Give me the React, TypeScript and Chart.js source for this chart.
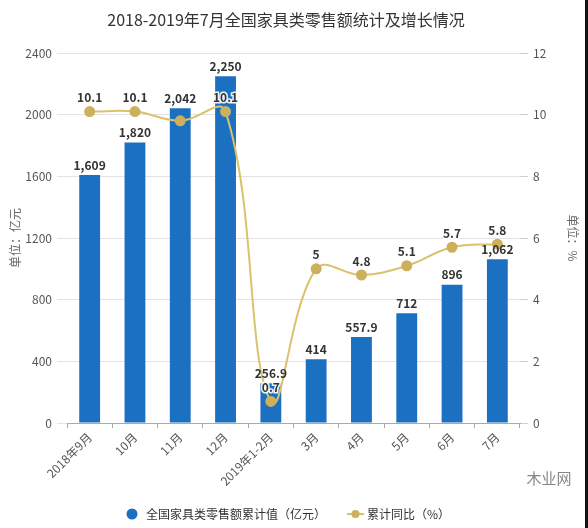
import React, { useEffect, useRef } from "react";
import { Chart, registerables } from "chart.js";

Chart.register(...registerables);

const categories = ["2018年9月", "10月", "11月", "12月", "2019年1-2月", "3月", "4月", "5月", "6月", "7月"];
const salesValues = [1609, 1820, 2042, 2250, 256.9, 414, 557.9, 712, 896, 1062];
const salesLabels = ["1,609", "1,820", "2,042", "2,250", "256.9", "414", "557.9", "712", "896", "1,062"];
const growthValues = [10.1, 10.1, 9.8, 10.1, 0.7, 5, 4.8, 5.1, 5.7, 5.8];
const growthLabels = ["10.1", "10.1", "", "10.1", "0.7", "5", "4.8", "5.1", "5.7", "5.8"];
const leftTicks = [0, 400, 800, 1200, 1600, 2000, 2400];
const rightTicks = [0, 2, 4, 6, 8, 10, 12];

const TITLE = "2018-2019年7月全国家具类零售额统计及增长情况";
const BAR_NAME = "全国家具类零售额累计值（亿元）";
const LINE_NAME = "累计同比（%）";
const WATERMARK = "木业网";

const BAR_COLOR = "#1b70c1";
const LINE_COLOR = "#d9c26e";
const POINT_COLOR = "#cdb05c";
const FONT = '"Noto Sans CJK SC", "Noto Sans", sans-serif';

const decorPlugin = {
  id: "decor",
  afterDatasetsDraw(chart: any) {
    const ctx = chart.ctx;
    ctx.save();
    ctx.font = `bold 12px ${FONT}`;
    ctx.textAlign = "center";
    ctx.textBaseline = "bottom";
    const barMeta = chart.getDatasetMeta(0);
    barMeta.data.forEach((el: any, i: number) => {
      ctx.fillStyle = "#333";
      ctx.fillText(salesLabels[i], el.x, el.y - 4);
    });
    const lineMeta = chart.getDatasetMeta(1);
    lineMeta.data.forEach((el: any, i: number) => {
      const t = growthLabels[i];
      if (!t) return;
      ctx.lineWidth = 3;
      ctx.strokeStyle = "rgba(255,255,255,0.9)";
      ctx.strokeText(t, el.x, el.y - 8);
      ctx.fillStyle = "#333";
      ctx.fillText(t, el.x, el.y - 8);
    });
    ctx.restore();
  },
  afterDraw(chart: any) {
    const ctx = chart.ctx;
    ctx.save();
    // title
    ctx.font = `16px ${FONT}`;
    ctx.fillStyle = "#333";
    ctx.textAlign = "center";
    ctx.textBaseline = "middle";
    ctx.fillText(TITLE, 278, 12);
    // legend
    const ly = 506;
    ctx.fillStyle = BAR_COLOR;
    ctx.beginPath();
    ctx.arc(124, ly, 5.5, 0, Math.PI * 2);
    ctx.fill();
    ctx.font = `12px ${FONT}`;
    ctx.fillStyle = "#333";
    ctx.textAlign = "left";
    ctx.fillText(BAR_NAME, 138, ly);
    ctx.strokeStyle = LINE_COLOR;
    ctx.lineWidth = 2;
    ctx.beginPath();
    ctx.moveTo(339, ly);
    ctx.lineTo(356, ly);
    ctx.stroke();
    ctx.fillStyle = POINT_COLOR;
    ctx.beginPath();
    ctx.arc(347.5, ly, 4, 0, Math.PI * 2);
    ctx.fill();
    ctx.fillStyle = "#333";
    ctx.fillText(LINE_NAME, 359, ly);
    // watermark
    ctx.font = `15px ${FONT}`;
    ctx.fillStyle = "#888";
    ctx.textAlign = "center";
    ctx.fillText(WATERMARK, 541, 470);
    ctx.restore();
  },
};

export default function App() {
  const ref = useRef<HTMLCanvasElement | null>(null);
  useEffect(() => {
    if (!ref.current) return;
    const chart = new Chart(ref.current, {
      type: "bar",
      data: {
        labels: categories,
        datasets: [
          {
            type: "bar",
            label: BAR_NAME,
            data: salesValues,
            backgroundColor: BAR_COLOR,
            barPercentage: 0.46,
            categoryPercentage: 1,
            yAxisID: "y",
            order: 1,
          },
          {
            type: "line",
            label: LINE_NAME,
            data: growthValues,
            borderColor: LINE_COLOR,
            backgroundColor: POINT_COLOR,
            pointBackgroundColor: POINT_COLOR,
            pointBorderColor: POINT_COLOR,
            pointRadius: 4.5,
            borderWidth: 2,
            tension: 0.4,
            yAxisID: "y1",
            order: 0,
          } as any,
        ],
      },
      options: {
        animation: false,
        responsive: false,
        maintainAspectRatio: false,
        layout: { padding: { left: 0, right: 0, top: 45, bottom: 27 } },
        plugins: {
          title: { display: false },
          legend: { display: false },
          tooltip: { enabled: false },
        },
        scales: {
          x: {
            grid: {
              display: true,
              drawOnChartArea: false,
              drawTicks: true,
              tickLength: 5,
              color: "#aaa",
            },
            border: { display: true, color: "#aaa" },
            ticks: {
              color: "#555",
              font: { family: FONT, size: 12 },
              maxRotation: 45,
              minRotation: 45,
              autoSkip: false,
              padding: 2,
            },
            afterFit: (s: any) => {
              s.height = 70;
            },
          },
          y: {
            position: "left",
            min: 0,
            max: 2400,
            afterBuildTicks: (s: any) => {
              s.ticks = leftTicks.map((v) => ({ value: v }));
            },
            grid: { color: "#e3e3e3", tickLength: 10, drawTicks: true },
            border: { display: false },
            ticks: {
              color: "#555",
              font: { family: FONT, size: 12 },
              padding: 5,
              callback: (v: any) => String(v),
            },
            title: {
              display: true,
              text: "单位：亿元",
              color: "#666",
              font: { family: FONT, size: 12 },
              padding: 0,
            },
            afterFit: (s: any) => {
              s.width = 59;
            },
          },
          y1: {
            position: "right",
            min: 0,
            max: 12,
            afterBuildTicks: (s: any) => {
              s.ticks = rightTicks.map((v) => ({ value: v }));
            },
            grid: {
              drawOnChartArea: false,
              drawTicks: true,
              tickLength: 8,
              color: "#d0d0d0",
            },
            border: { display: false },
            ticks: {
              color: "#555",
              font: { family: FONT, size: 12 },
              padding: 5,
              callback: (v: any) => String(v),
            },
            title: {
              display: true,
              text: "单位：%",
              color: "#666",
              font: { family: FONT, size: 12 },
              padding: 0,
            },
            afterFit: (s: any) => {
              s.width = 60;
            },
          },
        },
      },
      plugins: [decorPlugin],
    });
    return () => chart.destroy();
  }, []);
  return (
    <div style={{ position: "relative", width: 572, height: 512 }}>
      <canvas ref={ref} width={572} height={512} style={{ display: "block" }} />
      <div
        style={{
          position: "fixed",
          right: 0,
          top: 0,
          width: 3,
          height: "100%",
          background: "#111",
        }}
      />
    </div>
  );
}
